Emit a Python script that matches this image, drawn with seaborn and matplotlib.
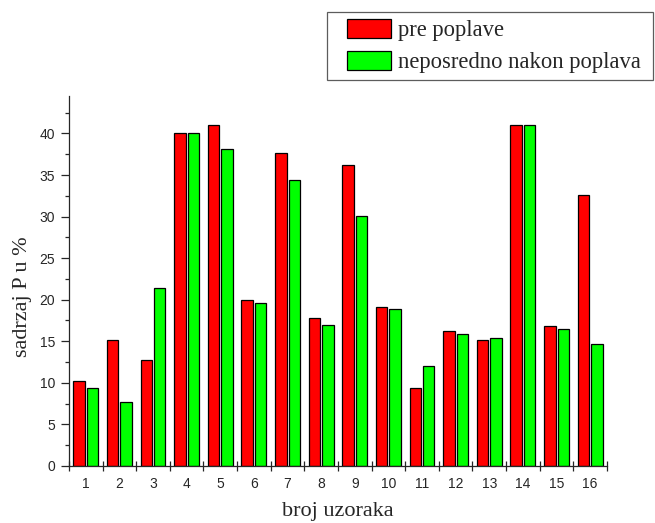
import matplotlib
matplotlib.use('Agg')
import matplotlib.pyplot as plt
from matplotlib.legend_handler import HandlerPatch
import numpy as np
import pandas as pd
import seaborn as sns

# Podaci ocitani sa grafika
uzorci = [str(i) for i in range(1, 17)]
pre_poplave = [10.2, 15.1, 12.7, 40.0, 41.0, 20.0, 37.7, 17.8,
               36.2, 19.1, 9.4, 16.2, 15.2, 41.0, 16.8, 32.6]
nakon_poplava = [9.4, 7.7, 21.4, 40.0, 38.1, 19.6, 34.4, 16.9,
                 30.1, 18.9, 12.0, 15.9, 15.4, 41.0, 16.5, 14.7]
serije = ['pre poplave', 'neposredno nakon poplava']
boje = ['#ff0000', '#00ff00']

df = pd.DataFrame({
    'uzorak': uzorci * 2,
    'vrednost': pre_poplave + nakon_poplava,
    'serija': [serije[0]] * len(uzorci) + [serije[1]] * len(uzorci),
})

sns.set_style('ticks')
serif = ['Liberation Serif', 'DejaVu Serif']
sans = ['Liberation Sans', 'DejaVu Sans']
plt.rcParams['font.family'] = sans

fig = plt.figure(figsize=(6.55, 5.23), dpi=100)
ax = fig.add_axes([0.1053, 0.109, 0.8214, 0.7074])

sns.barplot(data=df, x='uzorak', y='vrednost', hue='serija', palette=boje,
            order=uzorci, hue_order=serije, width=0.8, gap=0.15, saturation=1,
            edgecolor='black', linewidth=0.9, ax=ax, legend=False)

ax.set_xlim(-0.5, len(uzorci) - 0.5)
ax.set_ylim(0, 44.5)
sns.despine(ax=ax)

# y osa
ax.set_yticks(np.arange(0, 41, 5))
ax.set_yticks(np.arange(0, 44, 2.5), minor=True)
ax.tick_params(axis='y', which='major', direction='out', length=6, width=0.9,
               labelsize=10, pad=4)
ax.tick_params(axis='y', which='minor', direction='out', length=3, width=0.9)

# x osa: oznake u sredini, crtice na granicama grupa
ax.set_xticks(np.arange(len(uzorci)))
ax.set_xticklabels(uzorci)
ax.set_xticks(np.arange(-0.5, len(uzorci)), minor=True)
ax.tick_params(axis='x', which='major', length=0, labelsize=10, pad=8)
ax.tick_params(axis='x', which='minor', direction='inout', length=7, width=0.9)

for s in ['left', 'bottom']:
    ax.spines[s].set_linewidth(0.9)

ax.set_xlabel('broj uzoraka', family=serif, fontsize=16, labelpad=8)
ax.set_ylabel('sadrzaj P u %', family=serif, fontsize=16)
ax.yaxis.set_label_coords(-0.069, 0.457)


# legenda: pravougaonik pomeren malo udesno od ivice okvira
def pomeren_patch(legend, orig_handle, xdescent, ydescent, width, height, fontsize):
    pomak = 9.4
    return plt.Rectangle((-xdescent + pomak, -ydescent), width - pomak, height)


rukice = [plt.Rectangle((0, 0), 1, 1, facecolor=b, edgecolor='black', linewidth=0.9)
          for b in boje]
leg = fig.legend(rukice, serije, loc='upper left', mode='expand',
                 bbox_to_anchor=(0.499, 0.851, 0.4985, 0.126), borderaxespad=0,
                 prop={'family': serif, 'size': 16.3}, frameon=True, fancybox=False,
                 handlelength=2.55, handleheight=0.9, handletextpad=0.3,
                 labelspacing=0.45, borderpad=0.3,
                 handler_map={plt.Rectangle: HandlerPatch(patch_func=pomeren_patch)})
leg.get_frame().set_edgecolor('#333333')
leg.get_frame().set_linewidth(0.9)

fig.savefig('out.png', dpi=100)
